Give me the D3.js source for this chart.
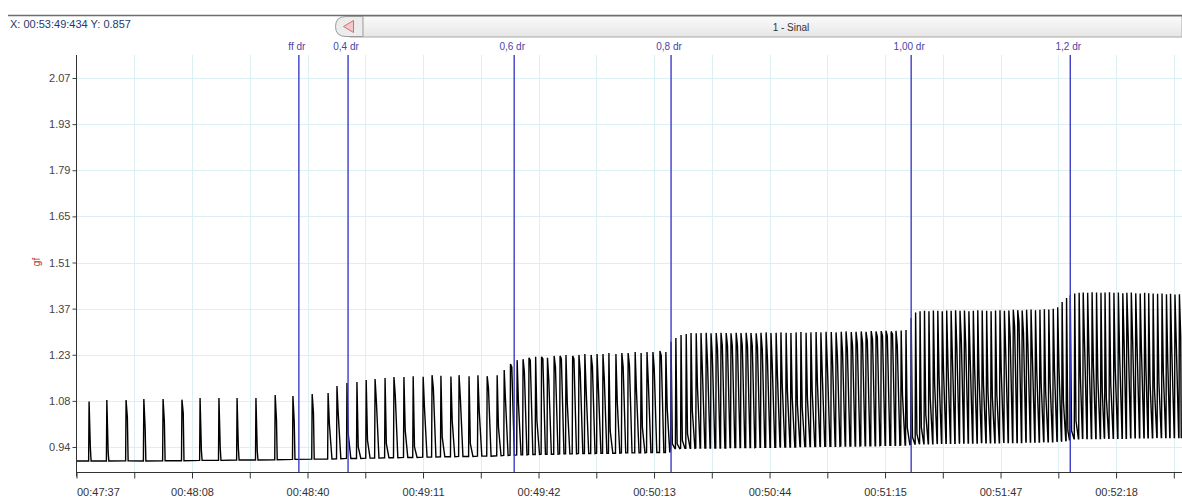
<!DOCTYPE html>
<html>
<head>
<meta charset="utf-8">
<script src="https://cdn.jsdelivr.net/npm/d3@7"></script>
<style>
  body { margin: 0; background: #fff; }
  svg { display: block; font-family: "Liberation Sans", Arial, sans-serif; }
</style>
</head>
<body>
<script>
// time axis: seconds after 00:47:37, labels every 31.22 s
var xTickLabels = ["00:47:37", "00:48:08", "00:48:40", "00:49:11", "00:49:42",
                   "00:50:13", "00:50:44", "00:51:15", "00:51:47", "00:52:18"];
var xTickStep = 31.22;
var yTickLabels = ["0.94", "1.08", "1.23", "1.37", "1.51", "1.65", "1.79", "1.93", "2.07"];

// event markers
var markerNames = ["ff dr", "0,4 dr", "0,6 dr", "0,8 dr", "1,00 dr", "1,2 dr"];
var markerTimes = [60.1, 73.4, 118.3, 160.7, 225.6, 268.6];

// one entry per pulse (seconds after 00:47:37)
var peakTimes = [
  3.4, 8.2, 13.4, 18.2, 23.4, 28.5, 33.4, 38.5, 43.4, 48.5, 53.7, 58.5, 63.7,
  68.0, 70.4, 73.1, 75.8, 78.3, 80.7, 83.4, 85.8, 88.5, 91.0, 93.7, 96.1, 98.5, 101.2, 103.4, 106.1, 108.5, 111.0, 113.7,
  115.6, 117.3, 119.1, 120.7, 122.3, 124.1, 125.7, 127.3, 129.1, 130.7, 132.3, 134.1, 135.8, 137.4, 139.1, 140.7, 142.3,
  143.9, 145.8, 147.4, 149.1, 151.0, 152.6, 154.2, 155.8, 157.7, 159.3,
  160.7, 162.0, 163.4, 164.8, 166.1, 167.5, 168.8, 170.2, 171.5, 172.9, 174.2, 175.6, 176.9, 178.3, 179.6, 181.0,
  182.3, 183.7, 185.0, 186.4, 187.7, 189.1, 190.4, 191.8, 193.1, 194.5, 195.8, 197.2, 198.5, 199.9, 201.2, 202.6,
  204.0, 205.3, 206.7, 208.0, 209.4, 210.7, 212.1, 213.4, 214.8, 216.1, 217.5, 218.8, 220.2, 221.5, 222.9, 224.2,
  225.6, 226.8, 228.0, 229.2, 230.4, 231.6, 232.8, 234.0, 235.2, 236.4, 237.6, 238.8, 240.0, 241.2, 242.4, 243.6,
  244.8, 246.0, 247.2, 248.4, 249.6, 250.8, 252.0, 253.2, 254.4, 255.6, 256.8, 258.0, 259.2, 260.4, 261.6, 262.8,
  264.0, 265.2, 266.4, 267.6,
  268.6, 269.8, 271.0, 272.1, 273.3, 274.5, 275.7, 276.9, 278.0, 279.2, 280.4, 281.6, 282.8, 283.9, 285.1, 286.3,
  287.5, 288.7, 289.8, 291.0, 292.2, 293.4, 294.6, 295.7, 296.9, 298.1
];
var peakValues = [
  1.079, 1.084, 1.084, 1.087, 1.087, 1.085, 1.090, 1.090, 1.090, 1.090, 1.099, 1.096, 1.102,
  1.105, 1.127, 1.136, 1.139, 1.145, 1.148, 1.151, 1.154, 1.154, 1.157, 1.155, 1.160, 1.158, 1.156, 1.160, 1.157, 1.160, 1.157, 1.160,
  1.176, 1.194, 1.206, 1.209, 1.213, 1.216, 1.216, 1.213, 1.219, 1.219, 1.222, 1.219, 1.222, 1.225, 1.222, 1.225, 1.225,
  1.228, 1.225, 1.228, 1.228, 1.231, 1.228, 1.231, 1.231, 1.234, 1.231,
  1.262, 1.274, 1.283, 1.286, 1.289, 1.288, 1.289, 1.290, 1.288, 1.289, 1.290, 1.289, 1.288, 1.290, 1.289, 1.290,
  1.289, 1.288, 1.290, 1.291, 1.289, 1.290, 1.291, 1.290, 1.289, 1.291, 1.292, 1.290, 1.291, 1.292, 1.291, 1.293,
  1.292, 1.291, 1.293, 1.294, 1.292, 1.293, 1.294, 1.293, 1.295, 1.294, 1.295, 1.296, 1.294, 1.296, 1.297, 1.298,
  1.335, 1.352, 1.356, 1.357, 1.356, 1.358, 1.357, 1.356, 1.358, 1.357, 1.359, 1.357, 1.358, 1.356, 1.357, 1.359,
  1.358, 1.357, 1.356, 1.358, 1.359, 1.357, 1.358, 1.360, 1.359, 1.358, 1.360, 1.361, 1.359, 1.360, 1.362, 1.361,
  1.363, 1.368, 1.384, 1.396,
  1.405, 1.410, 1.412, 1.413, 1.412, 1.414, 1.413, 1.412, 1.413, 1.414, 1.412, 1.413, 1.411, 1.412, 1.413, 1.411,
  1.410, 1.412, 1.411, 1.410, 1.409, 1.410, 1.408, 1.409, 1.407, 1.408
];
// level reached by the first sample after each peak
var shoulderValues = [
  0.937, 0.925, 1.030, 1.000, 1.017, 1.044, 0.930, 0.937, 0.937, 0.930, 1.023, 1.017, 1.044,
  1.01, 1.04, 0.98, 0.94, 0.96, 1.08, 0.95, 1.10, 0.99, 0.94, 1.06, 1.12, 0.97, 1.02, 1.09, 0.95, 1.05, 1.12, 1.00,
  1.084, 1.185, 1.075, 1.17, 1.206, 1.02, 1.21, 1.145, 1.185, 1.21, 1.075, 1.21, 1.17, 1.115, 1.185, 1.123, 1.15,
  0.99, 1.08, 1.185, 1.19, 1.11, 1.00, 1.14, 1.18, 1.22, 1.06,
  0.95, 0.95, 0.96, 0.98, 1.05, 1.12, 1.18, 1.20, 1.22, 1.24, 1.25, 1.25, 1.25, 1.25, 1.25, 1.25,
  1.25, 1.246, 1.24, 1.21, 1.19, 1.16, 1.13, 1.11, 1.09, 1.07, 1.06, 1.09, 1.11, 1.14, 1.17, 1.19,
  1.20, 1.22, 1.23, 1.24, 1.25, 1.255, 1.26, 1.265, 1.27, 1.277, 1.28, 1.28, 1.285, 1.25, 1.10, 1.00,
  0.97, 0.98, 1.00, 1.04, 1.09, 1.13, 1.15, 1.17, 1.19, 1.21, 1.24, 1.27, 1.25, 1.21, 1.18, 1.15,
  1.13, 1.11, 1.09, 1.10, 1.17, 1.23, 1.28, 1.31, 1.32, 1.29, 1.25, 1.22, 1.17, 1.13, 1.11, 1.14,
  1.17, 1.18, 1.08, 0.99,
  0.99, 1.02, 1.15, 1.26, 1.23, 1.19, 1.15, 1.11, 1.09, 1.13, 1.18, 1.22, 1.26, 1.28, 1.27, 1.25,
  1.23, 1.18, 1.14, 1.12, 1.14, 1.17, 1.20, 1.23, 1.26, 1.28
];
var baseValues = [
  0.897, 0.897, 0.898, 0.897, 0.898, 0.898, 0.899, 0.899, 0.900, 0.900, 0.901, 0.902, 0.903,
  0.903, 0.904, 0.905, 0.905, 0.906, 0.906, 0.907, 0.907, 0.908, 0.908, 0.909, 0.909, 0.910, 0.910, 0.911, 0.911, 0.912, 0.912, 0.913,
  0.914, 0.915, 0.916, 0.916, 0.917, 0.917, 0.918, 0.918, 0.918, 0.919, 0.919, 0.919, 0.920, 0.920, 0.920, 0.921, 0.921,
  0.921, 0.921, 0.922, 0.922, 0.922, 0.922, 0.923, 0.923, 0.923, 0.923,
  0.935, 0.935, 0.936, 0.936, 0.936, 0.937, 0.937, 0.937, 0.937, 0.937, 0.937, 0.937, 0.938, 0.938, 0.938, 0.938,
  0.938, 0.939, 0.939, 0.939, 0.939, 0.939, 0.940, 0.940, 0.940, 0.940, 0.941, 0.941, 0.941, 0.941, 0.942, 0.942,
  0.942, 0.942, 0.943, 0.943, 0.943, 0.943, 0.944, 0.944, 0.944, 0.944, 0.945, 0.945, 0.945, 0.945, 0.946, 0.946,
  0.949, 0.949, 0.950, 0.950, 0.950, 0.950, 0.951, 0.951, 0.951, 0.951, 0.951, 0.952, 0.952, 0.952, 0.952, 0.952,
  0.953, 0.953, 0.953, 0.953, 0.953, 0.954, 0.954, 0.954, 0.954, 0.954, 0.955, 0.955, 0.955, 0.955, 0.956, 0.956,
  0.956, 0.957, 0.958, 0.960,
  0.965, 0.965, 0.965, 0.966, 0.966, 0.966, 0.966, 0.966, 0.967, 0.967, 0.967, 0.967, 0.967, 0.967, 0.968, 0.968,
  0.968, 0.968, 0.968, 0.968, 0.969, 0.969, 0.969, 0.969, 0.969, 0.969
];

var W = 1182, H = 504;
var plotTop = 55, axisY = 472.5, axisX = 76.5;

var svg = d3.select("body").append("svg")
    .attr("width", W)
    .attr("height", H);

var x = d3.scaleLinear().domain([0, 298.8]).range([axisX, W]);
var y = d3.scaleLinear().domain([0.94, 2.07]).range([447, 78]);

var minorTicks = d3.range(xTickLabels.length * 2).map(function(i) { return i * xTickStep / 2; });
var yTicks = yTickLabels.map(function(d, i) { return 0.94 + i * (2.07 - 0.94) / (yTickLabels.length - 1); });

// ---- header strip ----
var defs = svg.append("defs");
var grad = defs.append("linearGradient").attr("id", "bar").attr("x1", 0).attr("x2", 0).attr("y1", 0).attr("y2", 1);
grad.append("stop").attr("offset", "0%").attr("stop-color", "#fbfbfb");
grad.append("stop").attr("offset", "100%").attr("stop-color", "#e6e6e6");

svg.append("rect").attr("x", 350).attr("y", 16).attr("width", W - 350).attr("height", 21)
    .attr("fill", "url(#bar)").attr("stroke", "#a8a8a8");
svg.append("line").attr("x1", 8).attr("x2", W).attr("y1", 15.5).attr("y2", 15.5)
    .attr("stroke", "#6e6e6e").attr("stroke-width", 1.5);
svg.append("path")
    .attr("d", "M363,16.5 L346,16.5 Q335.5,16.5 335.5,26.5 Q335.5,36.5 346,36.5 L363,36.5 Z")
    .attr("fill", "#ececec").attr("stroke", "#9a9a9a");
svg.append("path")
    .attr("d", "M343.5,26.5 L353.5,20.5 L353.5,32.5 Z")
    .attr("fill", "#f4c8c8").attr("stroke", "#d27070");
svg.append("text").attr("x", 791).attr("y", 30.5).attr("text-anchor", "middle")
    .style("font-size", "10px").style("fill", "#333").text("1 - Sinal");
svg.append("text").attr("x", 10).attr("y", 28)
    .style("font-size", "11px").style("fill", "#25386e").text("X: 00:53:49:434 Y: 0.857");

// ---- grid ----
svg.append("g").selectAll("line")
    .data(minorTicks.slice(1))
  .enter().append("line")
    .attr("x1", function(d) { return Math.round(x(d)) + 0.5; })
    .attr("x2", function(d) { return Math.round(x(d)) + 0.5; })
    .attr("y1", plotTop).attr("y2", axisY)
    .attr("stroke", "#dcf0f4");
svg.append("g").selectAll("line")
    .data(yTicks)
  .enter().append("line")
    .attr("x1", axisX).attr("x2", W)
    .attr("y1", function(d) { return Math.round(y(d)) + 0.5; })
    .attr("y2", function(d) { return Math.round(y(d)) + 0.5; })
    .attr("stroke", "#dcf0f4");

// ---- signal ----
svg.append("clipPath").attr("id", "plot")
  .append("rect").attr("x", axisX).attr("y", plotTop).attr("width", W - axisX).attr("height", axisY - plotTop);

// pulse shape: quick rise, steep drop to the shoulder, then back to base
// (isolated pulses come down fast, packed ones decay over the gap)
var rise = 0.12, fall = 0.35;
var pts = [[0, baseValues[0]]];
peakTimes.forEach(function(t, i) {
  var next = i < peakTimes.length - 1 ? peakTimes[i + 1] : 298.8;
  var gap = next - t;
  var tail = gap > 3 ? 0.55 : Math.min(1.05, gap - rise - 0.08);
  pts.push([t - rise, baseValues[i]]);
  pts.push([t, peakValues[i]]);
  pts.push([t + fall, shoulderValues[i]]);
  pts.push([t + tail, baseValues[i]]);
});
pts.push([298.8, baseValues[baseValues.length - 1]]);

var line = d3.line()
    .x(function(d) { return x(d[0]); })
    .y(function(d) { return y(d[1]); });

svg.append("path")
    .datum(pts)
    .attr("clip-path", "url(#plot)")
    .attr("d", line)
    .attr("fill", "none")
    .attr("stroke", "#000")
    .attr("stroke-width", 1.4)
    .attr("stroke-linejoin", "miter")
    .attr("stroke-miterlimit", 2);

// ---- markers ----
var mk = svg.append("g").selectAll("g")
    .data(markerTimes)
  .enter().append("g");
mk.append("line")
    .attr("x1", function(d) { return x(d); })
    .attr("x2", function(d) { return x(d); })
    .attr("y1", plotTop).attr("y2", axisY)
    .attr("stroke", "#3d3dc8").attr("stroke-width", 1.4);
mk.append("text")
    .attr("x", function(d) { return x(d) - 2; })
    .attr("y", 50)
    .attr("text-anchor", "middle")
    .style("font-size", "10px")
    .style("fill", "#4646a6")
    .text(function(d, i) { return markerNames[i]; });

// ---- axes ----
var xAxis = d3.axisBottom(x)
    .tickValues(minorTicks)
    .tickSize(6)
    .tickSizeOuter(0)
    .tickPadding(10)
    .tickFormat(function(d, i) { return i % 2 ? "" : xTickLabels[i / 2]; });

var gx = svg.append("g")
    .attr("transform", "translate(0," + axisY + ")")
    .call(xAxis);
gx.select(".domain").remove();
gx.selectAll("text").style("font-size", "11px").style("fill", "#333").style("font-family", "inherit");
gx.selectAll(".tick line").attr("stroke", "#333");
gx.selectAll(".tick text").filter(function(d, i) { return i === 0; }).attr("text-anchor", "start");

var yAxis = d3.axisLeft(y)
    .tickValues(yTicks)
    .tickSize(4)
    .tickSizeOuter(0)
    .tickPadding(2)
    .tickFormat(function(d, i) { return yTickLabels[i]; });

var gy = svg.append("g")
    .attr("transform", "translate(" + axisX + ",0)")
    .call(yAxis);
gy.select(".domain").remove();
gy.selectAll("text").style("font-size", "11px").style("fill", "#444").style("font-family", "inherit");
gy.selectAll(".tick line").attr("stroke", "#444");

svg.append("line").attr("x1", axisX).attr("x2", axisX).attr("y1", plotTop).attr("y2", axisY + 4)
    .attr("stroke", "#333");
svg.append("line").attr("x1", axisX).attr("x2", W).attr("y1", axisY).attr("y2", axisY)
    .attr("stroke", "#333");

svg.append("text")
    .attr("transform", "translate(40,262) rotate(-90)")
    .attr("text-anchor", "middle")
    .style("font-size", "10px")
    .style("fill", "#b83232")
    .text("gf");
</script>
</body>
</html>
